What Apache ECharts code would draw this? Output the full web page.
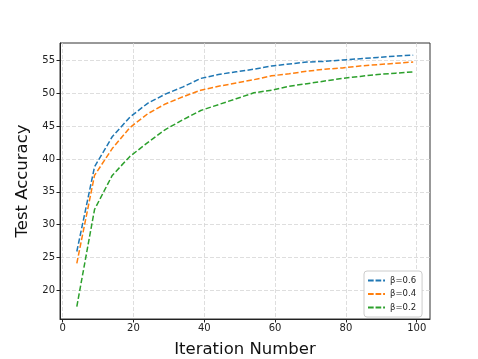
<!DOCTYPE html>
<html>
<head>
<meta charset="utf-8">
<script src="https://cdn.jsdelivr.net/npm/echarts@6/dist/echarts.min.js"></script>
<style>
    html, body {margin: 0; padding: 0; background: #fff;}
    #chart {width: 478px; height: 359px;}
</style>
</head>
<body>
<div id="chart"></div>
<script>
// iterations
const iterations = [4, 9, 14, 19, 24, 29, 34, 39, 44, 49, 54, 59, 64, 69, 74, 79, 84, 89, 94, 99];
const beta06 = [25.9, 38.8, 43.4, 46.4, 48.5, 49.9, 51.0, 52.3, 52.9, 53.3, 53.7, 54.2, 54.5, 54.8, 54.9, 55.1, 55.3, 55.5, 55.7, 55.85];
const beta04 = [24.1, 37.5, 41.6, 44.8, 46.9, 48.4, 49.5, 50.5, 51.1, 51.6, 52.1, 52.7, 53.0, 53.4, 53.7, 53.9, 54.2, 54.4, 54.6, 54.8];
const beta02 = [17.5, 32.3, 37.5, 40.4, 42.5, 44.5, 46.0, 47.4, 48.3, 49.2, 50.1, 50.5, 51.1, 51.5, 51.9, 52.3, 52.6, 52.9, 53.1, 53.3];
const xTicks = [0, 20, 40, 60, 80, 100];
const yTicks = [20, 25, 30, 35, 40, 45, 50, 55];

const seriesList = [
    {name: 'β=0.6', data: beta06, color: '#1f77b4'},
    {name: 'β=0.4', data: beta04, color: '#ff7f0e'},
    {name: 'β=0.2', data: beta02, color: '#2ca02c'},
];

const font = 'DejaVu Sans';
const splitLine = {show: true, lineStyle: {color: '#d6d6d6', type: [4, 2], width: 0.8}};
// dashed legend handle
const dashIcon = 'path://M0,0h6v2h-6z M8,0h6v2h-6z M16,0h2v2h-2z';

const chart = echarts.init(document.getElementById('chart'));
chart.setOption({
    animation: false,
    grid: {
        left: 60, right: 48, top: 43, bottom: 40,
        outerBoundsMode: 'none', containLabel: false,
        show: true, borderColor: '#333', borderWidth: 1
    },
    legend: {
        orient: 'vertical',
        left: 364, top: 271,
        icon: dashIcon,
        itemWidth: 17, itemHeight: 2, itemGap: 4.5,
        padding: [5, 6, 5, 4],
        borderColor: '#cccccc', borderWidth: 1, borderRadius: 3,
        backgroundColor: '#fff',
        textStyle: {fontFamily: font, fontSize: 8.5, color: '#222', lineHeight: 8},
        data: seriesList.map(s => s.name),
    },
    xAxis: {
        type: 'value', min: -0.75, max: 103.75,
        name: 'Iteration Number', nameLocation: 'middle', nameGap: 22,
        nameTextStyle: {fontFamily: font, fontSize: 16.5, color: '#111'},
        axisLine: {show: true, onZero: false, lineStyle: {color: '#222', width: 1}},
        axisTick: {show: true, length: 3.5, customValues: xTicks, lineStyle: {color: '#222'}},
        axisLabel: {customValues: xTicks, fontFamily: font, fontSize: 10, color: '#222', margin: 4},
        splitLine: splitLine,
    },
    yAxis: {
        type: 'value', min: 15.6, max: 57.7,
        name: 'Test Accuracy', nameLocation: 'middle', nameGap: 24,
        nameTextStyle: {fontFamily: font, fontSize: 16.5, color: '#111'},
        axisLine: {show: true, onZero: false, lineStyle: {color: '#222', width: 1}},
        axisTick: {show: true, length: 3.5, customValues: yTicks, lineStyle: {color: '#222'}},
        axisLabel: {customValues: yTicks, fontFamily: font, fontSize: 10, color: '#222', margin: 5},
        splitLine: splitLine,
    },
    series: seriesList.map(s => ({
        name: s.name,
        type: 'line',
        symbol: 'none',
        color: s.color,
        lineStyle: {color: s.color, width: 1.5, type: [5.5, 2.4]},
        data: iterations.map((x, i) => [x, s.data[i]]),
    })),
});
</script>
</body>
</html>
